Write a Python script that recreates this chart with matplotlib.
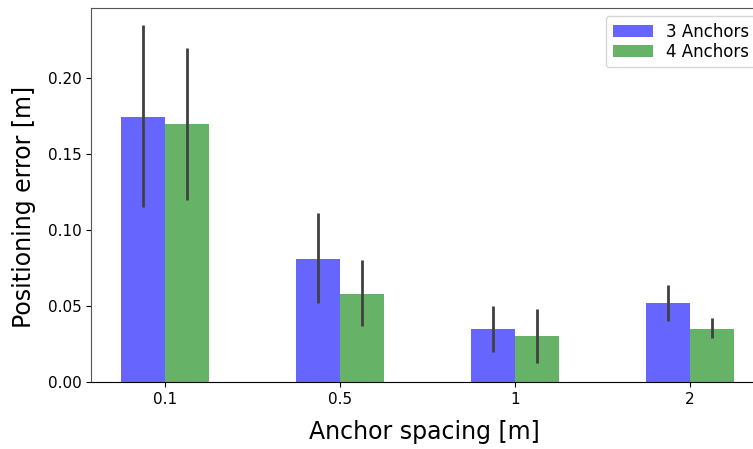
import numpy as np
import matplotlib.pyplot as plt

spacings = ["0.1", "0.5", "1", "2"]
mean_3 = [0.174, 0.081, 0.035, 0.052]
mean_4 = [0.170, 0.058, 0.030, 0.035]
# lower / upper error lengths
err_3 = [[0.059, 0.029, 0.015, 0.012], [0.061, 0.030, 0.015, 0.012]]
err_4 = [[0.050, 0.021, 0.0175, 0.006], [0.050, 0.022, 0.018, 0.007]]

x = np.arange(len(spacings))
width = 0.25

fig = plt.figure(figsize=(7.53, 4.49), dpi=100)
ax = fig.add_axes([91 / 753, 1 - 382 / 449, (764 - 91) / 753, (382 - 8) / 449])

ax.bar(x, mean_3, width, yerr=err_3, color="blue", alpha=0.6, label="3 Anchors",
       error_kw=dict(ecolor="#404040", elinewidth=2))
ax.bar(x + width, mean_4, width, yerr=err_4, color="green", alpha=0.6, label="4 Anchors",
       error_kw=dict(ecolor="#404040", elinewidth=2))

ax.set_xticks(x + width / 2)
ax.set_xticklabels(spacings)
ax.set_xlim(-0.298, 3.548)
ax.set_ylim(0, 0.246)
ax.set_yticks([0, 0.05, 0.10, 0.15, 0.20])
ax.tick_params(labelsize=11)
ax.set_xlabel("Anchor spacing [m]", fontsize=17)
ax.set_ylabel("Positioning error [m]", fontsize=17)
ax.xaxis.set_label_coords((424 - 91) / 673, -(420 - 382) / 374)
ax.yaxis.set_label_coords(-(91 - 36) / 673, (382 - 207) / 374)
for s in ax.spines.values():
    s.set_color("#555555")
ax.spines["bottom"].set_color("black")
ax.legend(loc="upper right", fontsize=12, handlelength=2.4,
          borderaxespad=0.5, labelspacing=0.1)

fig.savefig("out.png", dpi=100)
